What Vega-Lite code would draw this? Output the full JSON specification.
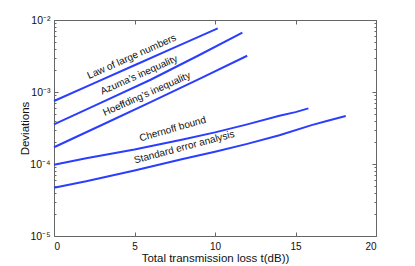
{
  "$schema": "https://vega.github.io/schema/vega-lite/v6.json",
  "width": 322,
  "height": 216,
  "autosize": "none",
  "padding": {"left": 54, "top": 20, "right": 39, "bottom": 30},
  "background": "white",
  "config": {
    "view": {"stroke": "#666", "strokeWidth": 1},
    "font": "Liberation Sans",
    "axis": {"grid": false, "domain": false, "tickColor": "#666", "labelColor": "#111", "titleColor": "#111", "labelFont": "Liberation Sans", "titleFont": "Liberation Sans", "titleFontWeight": "normal"}
  },
  "datasets": {
    "curves": [
      {"series": "law", "t": 0, "dev": 0.00075},
      {"series": "law", "t": 2.5, "dev": 0.00133},
      {"series": "law", "t": 5, "dev": 0.002355},
      {"series": "law", "t": 7.5, "dev": 0.00417},
      {"series": "law", "t": 10.17, "dev": 0.00767},
      {"series": "azuma", "t": 0, "dev": 0.000356},
      {"series": "azuma", "t": 3, "dev": 0.000724},
      {"series": "azuma", "t": 6, "dev": 0.00148},
      {"series": "azuma", "t": 9, "dev": 0.00324},
      {"series": "azuma", "t": 11.7, "dev": 0.00667},
      {"series": "hoeffding", "t": 0, "dev": 0.000171},
      {"series": "hoeffding", "t": 3, "dev": 0.000351},
      {"series": "hoeffding", "t": 6, "dev": 0.000724},
      {"series": "hoeffding", "t": 9, "dev": 0.00151},
      {"series": "hoeffding", "t": 12.0, "dev": 0.00319},
      {"series": "chernoff", "t": 0, "dev": 0.0000977},
      {"series": "chernoff", "t": 2, "dev": 0.00012},
      {"series": "chernoff", "t": 5, "dev": 0.0001585},
      {"series": "chernoff", "t": 8, "dev": 0.000219},
      {"series": "chernoff", "t": 10, "dev": 0.000275},
      {"series": "chernoff", "t": 12, "dev": 0.000355},
      {"series": "chernoff", "t": 14, "dev": 0.000468},
      {"series": "chernoff", "t": 15, "dev": 0.000525},
      {"series": "chernoff", "t": 15.8, "dev": 0.000593},
      {"series": "standard", "t": 0, "dev": 0.0000468},
      {"series": "standard", "t": 2, "dev": 0.0000575},
      {"series": "standard", "t": 5, "dev": 0.0000813},
      {"series": "standard", "t": 8, "dev": 0.0001175},
      {"series": "standard", "t": 10, "dev": 0.000148},
      {"series": "standard", "t": 12, "dev": 0.0001905},
      {"series": "standard", "t": 14, "dev": 0.000251},
      {"series": "standard", "t": 16, "dev": 0.000347},
      {"series": "standard", "t": 17, "dev": 0.000398},
      {"series": "standard", "t": 18.12, "dev": 0.000465}
    ],
    "labels": [
      {"series": "law", "label": "Law of large numbers", "t": 4.83, "dev": 0.00309},
      {"series": "azuma", "label": "Azuma’s inequality", "t": 5.28, "dev": 0.00172},
      {"series": "hoeffding", "label": "Hoeffding’s inequality", "t": 5.76, "dev": 0.000938},
      {"series": "chernoff", "label": "Chernoff bound", "t": 7.37, "dev": 0.000306},
      {"series": "standard", "label": "Standard error analysis", "t": 8.09, "dev": 0.000171}
    ]
  },
  "resolve": {"axis": {"x": "independent", "y": "independent"}},
  "layer": [
    {
      "data": {"name": "curves"},
      "mark": {"type": "line", "color": "#2b3dff", "strokeWidth": 2},
      "encoding": {
        "x": {"field": "t", "type": "quantitative", "scale": {"domain": [0, 20], "nice": false},
          "axis": {"title": "Total transmission loss t(dB))", "values": [0, 5, 10, 15, 20], "tickSize": -4, "labelPadding": 9, "labelFontSize": 10, "titleFontSize": 11.5, "titlePadding": 1}},
        "y": {"field": "dev", "type": "quantitative", "scale": {"type": "log", "domain": [0.00001, 0.01], "nice": false},
          "axis": {"title": "Deviations", "values": [0.00001, 0.00002, 0.00003, 0.00004, 0.00005, 0.00006, 0.00007, 0.00008, 0.00009, 0.0001, 0.0002, 0.0003, 0.0004, 0.0005, 0.0006, 0.0007, 0.0008, 0.0009, 0.001, 0.002, 0.003, 0.004, 0.005, 0.006, 0.007, 0.008, 0.009, 0.01],
            "labelExpr": "datum.value===0.01?'10⁻²':datum.value===0.001?'10⁻³':datum.value===0.0001?'10⁻⁴':datum.value===0.00001?'10⁻⁵':''",
            "tickSize": {"condition": {"test": "indexof([0.01,0.001,0.0001,0.00001], datum.value) >= 0", "value": -4}, "value": -2},
            "labelPadding": 8, "labelFontSize": 10.5, "titleFontSize": 11.5, "titlePadding": -1}},
        "detail": {"field": "series"}
      }
    },
    {
      "data": {"name": "curves"},
      "mark": {"type": "line", "strokeOpacity": 0},
      "encoding": {
        "x": {"field": "t", "type": "quantitative", "axis": {"orient": "top", "title": null, "labels": false, "values": [0, 5, 10, 15, 20], "tickSize": -4}},
        "y": {"field": "dev", "type": "quantitative", "axis": {"orient": "right", "title": null, "labels": false,
          "values": [0.00001, 0.00002, 0.00003, 0.00004, 0.00005, 0.00006, 0.00007, 0.00008, 0.00009, 0.0001, 0.0002, 0.0003, 0.0004, 0.0005, 0.0006, 0.0007, 0.0008, 0.0009, 0.001, 0.002, 0.003, 0.004, 0.005, 0.006, 0.007, 0.008, 0.009, 0.01],
          "tickSize": {"condition": {"test": "indexof([0.01,0.001,0.0001,0.00001], datum.value) >= 0", "value": -4}, "value": -2}}},
        "detail": {"field": "series"}
      }
    },
    {
      "data": {"name": "labels"},
      "transform": [{"filter": "datum.series === 'law'"}],
      "mark": {"type": "text", "angle": -24, "fontSize": 10, "color": "#111", "font": "Liberation Sans"},
      "encoding": {"x": {"field": "t", "type": "quantitative", "axis": null}, "y": {"field": "dev", "type": "quantitative", "axis": null}, "text": {"field": "label"}}
    },
    {
      "data": {"name": "labels"},
      "transform": [{"filter": "datum.series === 'azuma'"}],
      "mark": {"type": "text", "angle": -24, "fontSize": 10, "color": "#111", "font": "Liberation Sans"},
      "encoding": {"x": {"field": "t", "type": "quantitative", "axis": null}, "y": {"field": "dev", "type": "quantitative", "axis": null}, "text": {"field": "label"}}
    },
    {
      "data": {"name": "labels"},
      "transform": [{"filter": "datum.series === 'hoeffding'"}],
      "mark": {"type": "text", "angle": -24, "fontSize": 10, "color": "#111", "font": "Liberation Sans"},
      "encoding": {"x": {"field": "t", "type": "quantitative", "axis": null}, "y": {"field": "dev", "type": "quantitative", "axis": null}, "text": {"field": "label"}}
    },
    {
      "data": {"name": "labels"},
      "transform": [{"filter": "datum.series === 'chernoff'"}],
      "mark": {"type": "text", "angle": -16, "fontSize": 10, "color": "#111", "font": "Liberation Sans"},
      "encoding": {"x": {"field": "t", "type": "quantitative", "axis": null}, "y": {"field": "dev", "type": "quantitative", "axis": null}, "text": {"field": "label"}}
    },
    {
      "data": {"name": "labels"},
      "transform": [{"filter": "datum.series === 'standard'"}],
      "mark": {"type": "text", "angle": -15, "fontSize": 10, "color": "#111", "font": "Liberation Sans"},
      "encoding": {"x": {"field": "t", "type": "quantitative", "axis": null}, "y": {"field": "dev", "type": "quantitative", "axis": null}, "text": {"field": "label"}}
    }
  ]
}
